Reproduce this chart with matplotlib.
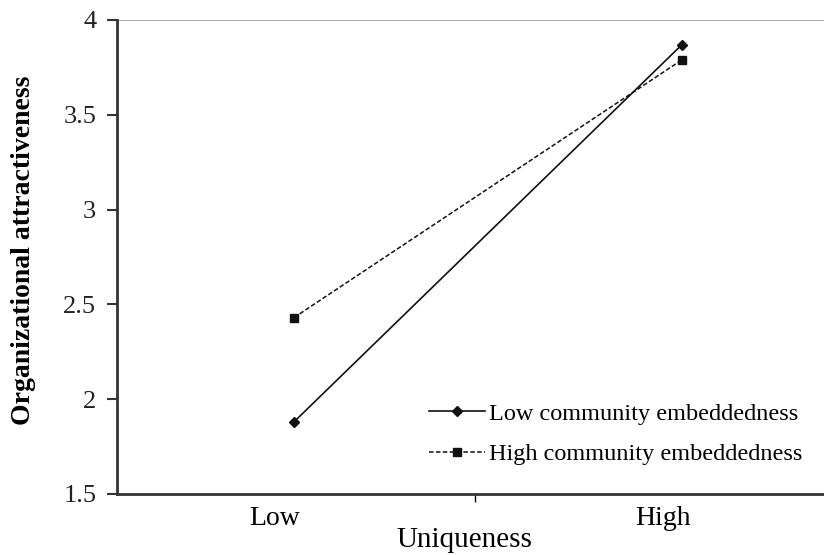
import matplotlib
matplotlib.use("Agg")
import matplotlib.pyplot as plt
from matplotlib.transforms import ScaledTranslation

categories = ["Low", "High"]
low_embed = [1.88, 3.87]
high_embed = [2.43, 3.79]
y_ticks = [1.5, 2, 2.5, 3, 3.5, 4]
y_tick_labels = ["1.5", "2", "2.5", "3", "3.5", "4"]

plt.rcParams['font.family'] = ['Liberation Serif', 'DejaVu Serif']

fig = plt.figure(figsize=(8.24, 5.55), dpi=100)
ax = fig.add_axes([0.142, 0.110, 0.858, 0.854])

x = [0, 1]
ax.plot(x, low_embed, color='#111111', lw=1.2, linestyle='-', marker='D',
        markersize=5, label='Low community embeddedness')
ax.plot(x, high_embed, color='#111111', lw=1.1, linestyle=(0, (3, 1.5)), marker='s',
        markersize=5.5, label='High community embeddedness')

ax.set_xlim(-0.456, 1.366)
ax.set_ylim(1.5, 4)
ax.set_yticks(y_ticks)
ax.set_yticklabels(y_tick_labels)
ax.axhline(4, color='#aaaaaa', lw=1.5, zorder=0)

ax.set_xticks(x)
ax.set_xticklabels(categories)
ax.tick_params(axis='x', which='major', length=0, pad=9, labelsize=20)
ax.set_xticks([0.466], minor=True)
ax.tick_params(axis='x', which='minor', length=6, width=1, direction='out')
ax.tick_params(axis='y', length=7, width=1.5, direction='out', labelsize=19, pad=8, colors='#333333', labelcolor='#222222')
offset = ScaledTranslation(-19 / 100, 0, fig.dpi_scale_trans)
for lbl in ax.get_xticklabels():
    lbl.set_transform(lbl.get_transform() + offset)

for s in ['top', 'right']:
    ax.spines[s].set_visible(False)
for s in ['left', 'bottom']:
    ax.spines[s].set_linewidth(2)
    ax.spines[s].set_color('#333333')

ax.set_xlabel('Uniqueness', fontsize=21)
ax.xaxis.set_label_coords(0.492, -0.07)
fig.text(24 / 824, 1 - 250 / 555, 'Organizational attractiveness', fontsize=20,
         fontweight='bold', rotation=90, ha='center', va='center')

ax.legend(loc='lower right', bbox_to_anchor=(0.99, 0.03), frameon=False, fontsize=17.5,
          handlelength=2.3, handletextpad=0.15, labelspacing=0.75, borderaxespad=0.2)

fig.savefig('out.png', dpi=100)
